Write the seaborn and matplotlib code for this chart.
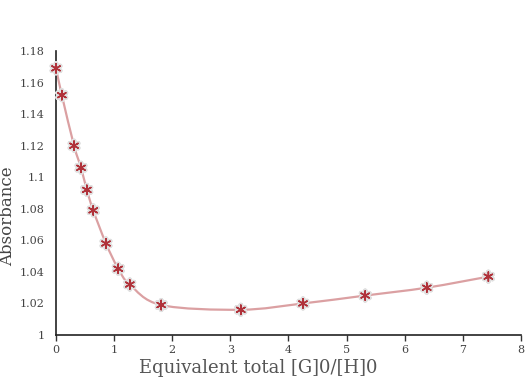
import numpy as np
import pandas as pd
import matplotlib
matplotlib.use("Agg")
import matplotlib.pyplot as plt
from matplotlib.path import Path
from matplotlib.patches import PathPatch
import matplotlib.patheffects as pe
import seaborn as sns

# ---- data ----
equiv = [0.0, 0.10, 0.31, 0.43, 0.53, 0.64, 0.86, 1.07, 1.27, 1.81, 3.18, 4.25, 5.32, 6.38, 7.44]
absorbance = [1.169, 1.152, 1.120, 1.106, 1.092, 1.079, 1.058, 1.042, 1.032, 1.019,
              1.016, 1.020, 1.025, 1.030, 1.037]
x_ticks = [0, 1, 2, 3, 4, 5, 6, 7, 8]
y_ticks = [1.0, 1.02, 1.04, 1.06, 1.08, 1.1, 1.12, 1.14, 1.16, 1.18]
y_ticklabels = ["1", "1.02", "1.04", "1.06", "1.08", "1.1", "1.12", "1.14", "1.16", "1.18"]

df = pd.DataFrame({"equiv": equiv, "absorbance": absorbance})

sns.set_style("ticks")
plt.rcParams["font.family"] = ["DejaVu Serif"]

fig = plt.figure(figsize=(5.31, 3.77), dpi=100)
ax = fig.add_axes([0.1055, 0.1114, 0.8755, 0.7533])

# smoothed line (Catmull-Rom as cubic Bezier, like a spreadsheet "smooth line")
pts = df[["equiv", "absorbance"]].to_numpy()
verts = [tuple(pts[0])]
codes = [Path.MOVETO]
for i in range(len(pts) - 1):
    p0 = pts[max(i - 1, 0)]
    p1 = pts[i]
    p2 = pts[i + 1]
    p3 = pts[min(i + 2, len(pts) - 1)]
    c1 = p1 + (p2 - p0) / 6
    c2 = p2 - (p3 - p1) / 6
    verts += [tuple(c1), tuple(c2), tuple(p2)]
    codes += [Path.CURVE4] * 3
ax.add_patch(PathPatch(Path(verts, codes), fill=False, edgecolor="#dba0a2", lw=1.6,
                       zorder=2))

# markers with a soft grey shadow
shadow = [pe.withStroke(linewidth=3.5, foreground="#e0e0e0")]
pts_art = sns.scatterplot(data=df, x="equiv", y="absorbance", ax=ax, marker=(6, 2, 0),
                          s=45, color="#b0323a", linewidth=1.1, edgecolor="#b0323a",
                          zorder=3, clip_on=False)
pts_art.collections[0].set_path_effects(shadow)

ax.set_xlim(0, 8)
ax.set_ylim(1.0, 1.18)
ax.set_xticks(x_ticks)
ax.set_yticks(y_ticks)
ax.set_yticklabels(y_ticklabels)
ax.tick_params(axis="x", length=4, width=1, color="#333333", labelsize=8,
               labelcolor="#444444", pad=3)
ax.tick_params(axis="y", length=0, labelsize=8, labelcolor="#444444", pad=8)

for side in ["top", "right"]:
    ax.spines[side].set_visible(False)
for side in ["left", "bottom"]:
    ax.spines[side].set_color("#222222")
    ax.spines[side].set_linewidth(1.2)

ax.set_xlabel("Equivalent total [G]0/[H]0", fontsize=13, color="#555555")
ax.set_ylabel("Absorbance", fontsize=12, color="#444444")
ax.xaxis.set_label_coords(0.435, -0.085)
ax.yaxis.set_label_coords(-0.085, 0.42)

fig.savefig("out.png", dpi=100)
